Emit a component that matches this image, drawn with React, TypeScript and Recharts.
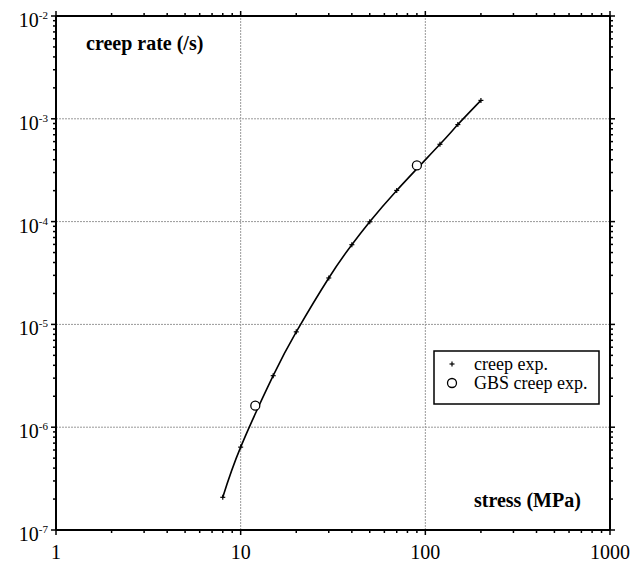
import { ComposedChart, XAxis, YAxis, Scatter, Line, ReferenceLine } from 'recharts';

// creep experiments (stress in MPa, creep rate in 1/s)
const creepStress = [8, 10, 15, 20, 30, 40, 50, 70, 120, 150, 200];
const creepRate = [2.08e-7, 6.4e-7, 3.17e-6, 8.46e-6, 2.83e-5, 5.96e-5, 9.95e-5, 2.01e-4, 5.65e-4, 8.79e-4, 1.51e-3];

// grain boundary sliding creep experiments
const gbsStress = [12, 90];
const gbsRate = [1.62e-6, 3.52e-4];

const xDecades = [1, 10, 100, 1000];
const yDecades = [1e-7, 1e-6, 1e-5, 1e-4, 1e-3, 1e-2];
const minorSteps = [2, 3, 4, 5, 6, 7, 8, 9];
const xGrid = [10, 100];
const yGrid = [1e-6, 1e-5, 1e-4, 1e-3];

const withMinor = (decades: number[]) =>
  decades.flatMap((d, i) => (i < decades.length - 1 ? [d, ...minorSteps.map((m) => d * m)] : [d]));

const xTicks = withMinor(xDecades);
const yTicks = withMinor(yDecades);

const creepData = creepStress.map((x, i) => ({ x, y: creepRate[i] }));
const gbsData = gbsStress.map((x, i) => ({ x, y: gbsRate[i] }));

const FONT = '"Liberation Serif", "Times New Roman", serif';

const isMajor = (v: number) => Math.abs(Math.log10(v) - Math.round(Math.log10(v))) < 1e-6;

function AxisTick(props: any) {
  const { x, y, payload, side } = props;
  const major = isMajor(payload.value);
  const len = major ? 5 : 3;
  let line = null;
  if (side === 'bottom') line = <line x1={x} y1={y} x2={x} y2={y + len} stroke="#000" strokeWidth={1.5} />;
  if (side === 'top') line = <line x1={x} y1={y} x2={x} y2={y - len} stroke="#000" strokeWidth={1.5} />;
  if (side === 'left') line = <line x1={x} y1={y} x2={x - len} y2={y} stroke="#000" strokeWidth={1.5} />;
  if (side === 'right') line = <line x1={x} y1={y} x2={x + len} y2={y} stroke="#000" strokeWidth={1.5} />;

  let label = null;
  if (major && side === 'bottom') {
    label = (
      <text x={x} y={y + 29} textAnchor="middle" fontSize={20} fontFamily={FONT} fill="#000">
        {payload.value}
      </text>
    );
  }
  if (major && side === 'left') {
    const exp = Math.round(Math.log10(payload.value));
    label = (
      <text x={x - 8} y={y + 11} textAnchor="end" fontSize={20} fontFamily={FONT} fill="#000">
        <tspan>10</tspan>
        <tspan dy={-8} fontSize={11}>{`-${Math.abs(exp)}`}</tspan>
      </text>
    );
  }
  return (
    <g>
      {line}
      {label}
    </g>
  );
}

const PlusMark = (props: any) => {
  const { cx, cy } = props;
  return (
    <g>
      <line x1={cx - 2.5} y1={cy} x2={cx + 2.5} y2={cy} stroke="#000" strokeWidth={1.2} />
      <line x1={cx} y1={cy - 2.5} x2={cx} y2={cy + 2.5} stroke="#000" strokeWidth={1.2} />
    </g>
  );
};

const CircleMark = (props: any) => {
  const { cx, cy } = props;
  return <circle cx={cx} cy={cy} r={4.5} fill="#fff" stroke="#000" strokeWidth={1.3} />;
};

export default function App() {
  const axisLine = { stroke: '#000', strokeWidth: 2 };
  return (
    <div style={{ position: 'absolute', left: 0, top: 0, background: '#fff' }}>
      <ComposedChart width={642} height={566} margin={{ top: 0, right: 0, bottom: 0, left: 0 }}>
        <XAxis
          xAxisId="b"
          dataKey="x"
          type="number"
          scale="log"
          domain={[1, 1000]}
          allowDataOverflow
          ticks={xTicks}
          interval={0}
          tickSize={0}
          tickMargin={0}
          tickLine={false}
          tick={<AxisTick side="bottom" />}
          axisLine={axisLine}
          height={36}
        />
        <XAxis
          xAxisId="t"
          orientation="top"
          dataKey="x"
          type="number"
          scale="log"
          domain={[1, 1000]}
          allowDataOverflow
          ticks={xTicks}
          interval={0}
          tickSize={0}
          tickMargin={0}
          tickLine={false}
          tick={<AxisTick side="top" />}
          axisLine={axisLine}
          height={16}
        />
        <YAxis
          yAxisId="l"
          type="number"
          scale="log"
          domain={[1e-7, 1e-2]}
          allowDataOverflow
          ticks={yTicks}
          interval={0}
          tickSize={0}
          tickMargin={0}
          tickLine={false}
          tick={<AxisTick side="left" />}
          axisLine={axisLine}
          width={56}
        />
        <YAxis
          yAxisId="r"
          orientation="right"
          type="number"
          scale="log"
          domain={[1e-7, 1e-2]}
          allowDataOverflow
          ticks={yTicks}
          interval={0}
          tickSize={0}
          tickMargin={0}
          tickLine={false}
          tick={<AxisTick side="right" />}
          axisLine={axisLine}
          width={32}
        />
        {xGrid.map((v) => (
          <ReferenceLine key={`gx${v}`} x={v} xAxisId="b" yAxisId="l" stroke="#999" strokeDasharray="2 1" />
        ))}
        {yGrid.map((v) => (
          <ReferenceLine key={`gy${v}`} y={v} xAxisId="b" yAxisId="l" stroke="#999" strokeDasharray="2 1" />
        ))}
        <Line
          data={creepData}
          dataKey="y"
          xAxisId="b"
          yAxisId="l"
          type="natural"
          stroke="#000"
          strokeWidth={1.6}
          dot={false}
          activeDot={false}
          isAnimationActive={false}
        />
        <Scatter data={creepData} dataKey="y" xAxisId="b" yAxisId="l" shape={<PlusMark />} isAnimationActive={false} />
        <Scatter data={gbsData} dataKey="y" xAxisId="b" yAxisId="l" shape={<CircleMark />} isAnimationActive={false} />

        <text x={86} y={50} fontSize={20} fontWeight="bold" fontFamily={FONT} fill="#000">
          creep rate (/s)
        </text>
        <text x={474} y={507} fontSize={20} fontWeight="bold" fontFamily={FONT} fill="#000">
          stress (MPa)
        </text>

        <g>
          <rect x={434} y={351} width={165} height={53} fill="#fff" stroke="#000" strokeWidth={1.5} />
          <PlusMark cx={452} cy={364} />
          <text x={474} y={370} fontSize={18} fontFamily={FONT} fill="#000">
            creep exp.
          </text>
          <CircleMark cx={452} cy={383} />
          <text x={474} y={389} fontSize={18} fontFamily={FONT} fill="#000">
            GBS creep exp.
          </text>
        </g>
      </ComposedChart>
    </div>
  );
}
